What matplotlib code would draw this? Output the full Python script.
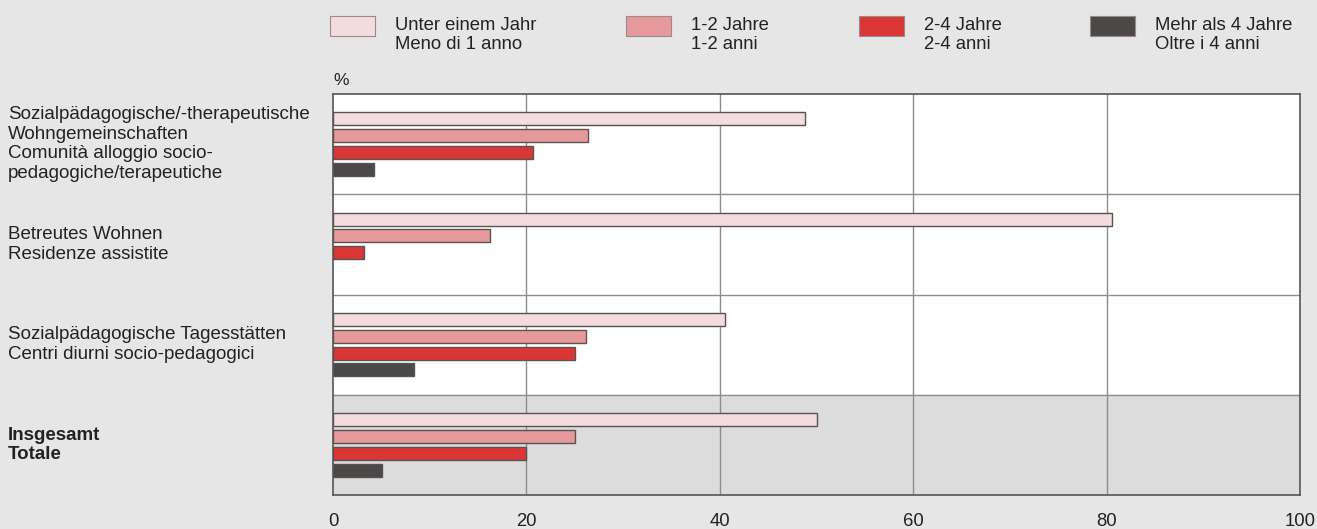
import matplotlib.pyplot as plt
from matplotlib.patches import Rectangle
import numpy as np

plt.rcParams['font.family'] = ['Liberation Sans', 'DejaVu Sans']

# Data
categories = [
    "Sozialpädagogische/-therapeutische\nWohngemeinschaften\nComunità alloggio socio-\npedagogiche/terapeutiche",
    "Betreutes Wohnen\nResidenze assistite",
    "Sozialpädagogische Tagesstätten\nCentri diurni socio-pedagogici",
    "Insgesamt\nTotale",
]
series_labels = [
    "Unter einem Jahr\nMeno di 1 anno",
    "1-2 Jahre\n1-2 anni",
    "2-4 Jahre\n2-4 anni",
    "Mehr als 4 Jahre\nOltre i 4 anni",
]
unter_1 = [48.8, 80.6, 40.5, 50.0]
j_1_2 = [26.4, 16.2, 26.2, 25.0]
j_2_4 = [20.7, 3.2, 25.0, 20.0]
ueber_4 = [4.2, 0, 8.4, 5.1]
xticks = [0, 20, 40, 60, 80, 100]

colors = ['#f2dcdd', '#e6999a', '#db3636', '#4b4848']
series = [unter_1, j_1_2, j_2_4, ueber_4]

W, H = 1317, 529
fig = plt.figure(figsize=(W / 100, H / 100), dpi=100)
fig.patch.set_facecolor('#e6e6e6')
ax = fig.add_axes([333 / W, 1 - 495 / H, (1300 - 333) / W, (495 - 94) / H])
ax.set_facecolor('white')

n = len(categories)
ax.set_ylim(n, 0)
ax.set_xlim(0, 100)

# shade the total row
ax.axhspan(3, 4, color='#dcdcdc', zorder=0)

step = 0.168
h = 0.13
for i, (vals, c) in enumerate(zip(series, colors)):
    y = np.arange(n) + 0.5 + (i - 1.5) * step
    for k in range(n):
        if vals[k] > 0:
            ax.barh(y[k], vals[k], height=h, color=c, edgecolor='#5a5252',
                    linewidth=1.0, zorder=3)

for x in xticks[1:-1]:
    ax.axvline(x, color='#8c8c8c', lw=1, zorder=1)
for yy in range(1, n):
    ax.axhline(yy, color='#8c8c8c', lw=1, zorder=1)

for s in ax.spines.values():
    s.set_color('#555555')
    s.set_linewidth(1.2)

ax.set_xticks(xticks)
ax.set_xticklabels([str(t) for t in xticks], fontsize=13.3, color='#222222')
ax.tick_params(axis='x', length=0, pad=13)
ax.set_yticks([])

# category labels
for k, lab in enumerate(categories):
    fw = 'bold' if k == n - 1 else 'normal'
    ax.text(-0.336, k + 0.5, lab, transform=ax.get_yaxis_transform(),
            ha='left', va='center', fontsize=13.5, fontweight=fw,
            color='#222222', linespacing=1.2)
ax.text(0, 1.015, '%', transform=ax.transAxes, ha='left', va='bottom',
        fontsize=12.5, color='#222222')

# legend
leg_x = [330, 626, 859, 1090]
for lx, lab, c in zip(leg_x, series_labels, colors):
    fig.patches.append(Rectangle((lx / W, 1 - 36 / H), 45 / W, 20 / H,
                                 transform=fig.transFigure, facecolor=c,
                                 edgecolor='#9a8a8a', lw=0.8))
    fig.text((lx + 65) / W, 1 - 35 / H, lab, ha='left', va='center',
             fontsize=13.3, color='#222222', linespacing=1.17)

fig.savefig('out.png', dpi=100, facecolor=fig.get_facecolor())
